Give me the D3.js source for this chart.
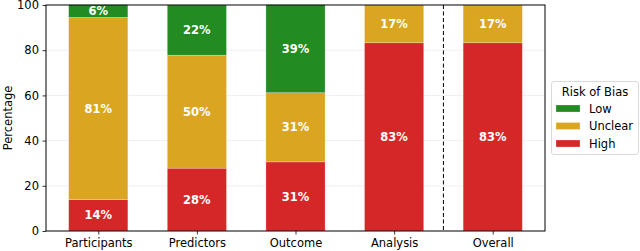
<!DOCTYPE html>
<html><head><meta charset="utf-8">
<script src="https://cdn.jsdelivr.net/npm/d3@7"></script>
<style>body{margin:0;background:#fff}svg{display:block;font-family:"DejaVu Sans",sans-serif}</style>
</head><body><svg id="c" width="640" height="251"></svg>
<script>
const categories = ["Participants","Predictors","Outcome","Analysis","Overall"];
const highVals = [13.9, 27.8, 30.6, 83.3, 83.3];
const unclearVals = [80.6, 50.0, 30.6, 16.7, 16.7];
const lowVals = [5.6, 22.2, 38.9, 0, 0];
const yTicks = [0,20,40,60,80,100];
const levels = ["High","Unclear","Low"];
const colors = {Low:"#228b22", Unclear:"#daa520", High:"#d62728"};
const seriesVals = {High:highVals, Unclear:unclearVals, Low:lowVals};
const FS = "11.5px";

const svg = d3.select("#c");
const L=46, R=545, T=5, B=231;
const x = d3.scaleLinear().domain([-0.53, 4.53]).range([L,R]);
const y = d3.scaleLinear().domain([0,100]).range([B,T]);
const bw = x(0.6)-x(0);

// grid
svg.append("g").selectAll("line").data(yTicks.filter(t=>t>0&&t<100)).join("line")
  .attr("x1",L).attr("x2",R).attr("y1",d=>y(d)).attr("y2",d=>y(d))
  .attr("stroke","#ebebeb").attr("stroke-width",0.8);

// stacked bars
const g = svg.append("g");
categories.forEach((c,i)=>{
  let base=0;
  levels.forEach(lv=>{
    const v = seriesVals[lv][i];
    if(v>0){
      g.append("rect").attr("x",x(i)-bw/2).attr("width",bw)
        .attr("y",y(base+v)).attr("height",y(base)-y(base+v))
        .attr("fill",colors[lv]).attr("stroke","#fff").attr("stroke-opacity",0.35).attr("stroke-width",0.7);
      g.append("text").attr("x",x(i)).attr("y",y(base+v/2)).attr("dy","0.36em")
        .attr("text-anchor","middle").attr("fill","#fff").attr("font-weight","bold")
        .attr("font-size",FS).text(Math.round(v)+"%");
    }
    base+=v;
  });
});

// dashed separator
svg.append("line").attr("x1",x(3.5)).attr("x2",x(3.5)).attr("y1",T).attr("y2",B)
  .attr("stroke","#000").attr("stroke-width",1).attr("stroke-dasharray","4,2.5");

// axes
const xa = svg.append("g").attr("transform",`translate(0,${B})`)
  .call(d3.axisBottom(x).tickValues(d3.range(categories.length)).tickFormat(i=>categories[i]).tickSize(3.5).tickSizeOuter(0));
const ya = svg.append("g").attr("transform",`translate(${L},0)`)
  .call(d3.axisLeft(y).tickValues(yTicks).tickSize(3.5).tickSizeOuter(0));
[xa,ya].forEach(a=>{a.select(".domain").remove();a.selectAll("text").attr("font-size",FS).attr("fill","#000").attr("font-family","DejaVu Sans");a.selectAll("line").attr("stroke","#000").attr("stroke-width",0.8);});
xa.selectAll("text").attr("y",7).attr("dy","0.76em");
ya.selectAll("text").attr("x",-7);

// frame
svg.append("rect").attr("x",L).attr("y",T).attr("width",R-L).attr("height",B-T)
  .attr("fill","none").attr("stroke","#000").attr("stroke-width",1);

// y label
svg.append("text").attr("transform",`translate(8,${(T+B)/2}) rotate(-90)`)
  .attr("text-anchor","middle").attr("dy","0.35em").attr("font-size",FS).text("Percentage");

// legend
const lg = svg.append("g").attr("transform","translate(551,81)");
lg.append("rect").attr("x",0.5).attr("y",0.5).attr("width",87).attr("height",73).attr("rx",2.5)
  .attr("fill","#fff").attr("stroke","#d0d0d0").attr("stroke-width",0.8);
lg.append("text").attr("x",44).attr("y",11).attr("dy","0.35em").attr("text-anchor","middle").attr("font-size",FS).text("Risk of Bias");
["Low","Unclear","High"].forEach((lv,k)=>{
  const yy = 27.5+k*17.5;
  lg.append("rect").attr("x",5).attr("y",yy-3.5).attr("width",24).attr("height",7)
    .attr("fill",colors[lv]).attr("stroke","#fff").attr("stroke-opacity",0.35).attr("stroke-width",0.7);
  lg.append("text").attr("x",38).attr("y",yy).attr("dy","0.35em").attr("font-size",FS).text(lv);
});
</script></body></html>
